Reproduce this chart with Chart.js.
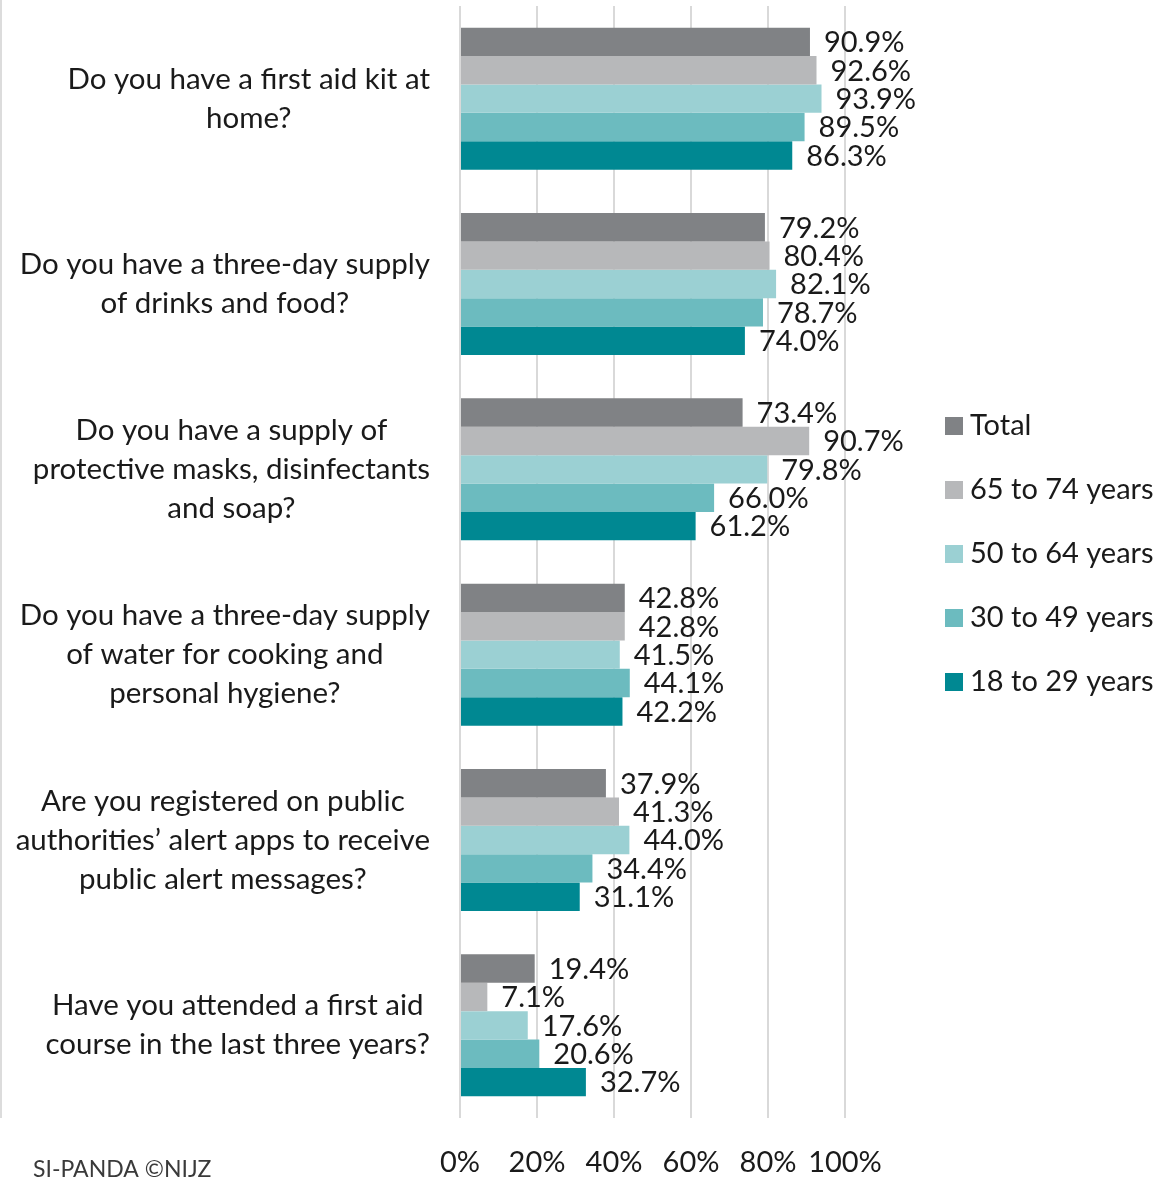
<!DOCTYPE html>
<html>
<head>
<meta charset="utf-8">
<script src="https://cdn.jsdelivr.net/npm/chart.js@4/dist/chart.umd.min.js"></script>
<style>
  html, body { margin: 0; padding: 0; background: #fff; }
  #wrap { position: relative; width: 1160px; height: 1180px; }
  #frame { position: absolute; left: 0; top: 0; width: 2px; height: 1118px; background: #dcdcdc; }
  canvas { position: absolute; left: 0; top: 0; }
</style>
</head>
<body>
<div id="wrap">
  <canvas id="chart" width="1160" height="1180"></canvas>
  <div id="frame"></div>
</div>
<script>
// Survey questions (one wrapped label per question)
const questions = [
  ["Do you have a first aid kit at", "home?"],
  ["Do you have a three-day supply", "of drinks and food?"],
  ["Do you have a supply of", "protective masks, disinfectants", "and soap?"],
  ["Do you have a three-day supply", "of water for cooking and", "personal hygiene?"],
  ["Are you registered on public", "authorities\u2019 alert apps to receive", "public alert messages?"],
  ["Have you attended a first aid", "course in the last three years?"]
];

// Share of respondents answering "yes" (%)
const total      = [90.9, 79.2, 73.4, 42.8, 37.9, 19.4];
const age65to74  = [92.6, 80.4, 90.7, 42.8, 41.3, 7.1];
const age50to64  = [93.9, 82.1, 79.8, 41.5, 44.0, 17.6];
const age30to49  = [89.5, 78.7, 66.0, 44.1, 34.4, 20.6];
const age18to29  = [86.3, 74.0, 61.2, 42.2, 31.1, 32.7];

const seriesNames = ["Total", "65 to 74 years", "50 to 64 years", "30 to 49 years", "18 to 29 years"];
const seriesColors = ["#808285", "#b7b8ba", "#9bd0d3", "#6cbbbf", "#008892"];

const xTicks = [0, 20, 40, 60, 80, 100];

const FONT = "Lato, 'Open Sans', sans-serif";
const TEXT = "#1a1a1a";

// Category labels: each block right-aligned to the axis, lines centred within the block
const questionLabels = {
  id: "questionLabels",
  afterDraw(chart) {
    const { ctx } = chart;
    const y = chart.scales.y;
    const rightEdge = y.right - 30;
    const lineH = 39;
    ctx.save();
    ctx.font = "29.5px " + FONT;
    ctx.fillStyle = TEXT;
    ctx.textAlign = "center";
    ctx.textBaseline = "middle";
    chart.data.labels.forEach((lines, i) => {
      const cy = y.getPixelForTick(i);
      const w = Math.max(...lines.map(l => ctx.measureText(l).width));
      const cx = rightEdge - w / 2;
      lines.forEach((l, j) => {
        ctx.fillText(l, cx, cy + (j - (lines.length - 1) / 2) * lineH);
      });
    });
    ctx.restore();
  }
};

// Value labels just past the end of each bar
const valueLabels = {
  id: "valueLabels",
  afterDatasetsDraw(chart) {
    const { ctx } = chart;
    ctx.save();
    ctx.font = "29px " + FONT;
    ctx.fillStyle = TEXT;
    ctx.textAlign = "left";
    ctx.textBaseline = "middle";
    chart.data.datasets.forEach((ds, di) => {
      chart.getDatasetMeta(di).data.forEach((bar, i) => {
        ctx.fillText(ds.data[i].toFixed(1) + "%", bar.x + 14, bar.y + 1);
      });
    });
    ctx.restore();
  }
};

// Legend at the right and source note at the bottom left
const sideLegend = {
  id: "sideLegend",
  afterDraw(chart) {
    const { ctx } = chart;
    const x0 = chart.chartArea.right + 100;
    const step = 64;
    const n = chart.data.datasets.length;
    const midY = (chart.chartArea.top + chart.chartArea.bottom) / 2 - 8;
    ctx.save();
    ctx.font = "29px " + FONT;
    ctx.textBaseline = "middle";
    ctx.textAlign = "left";
    chart.data.datasets.forEach((ds, i) => {
      const cy = midY + (i - (n - 1) / 2) * step;
      ctx.fillStyle = ds.backgroundColor;
      ctx.fillRect(x0, cy - 9, 18, 18);
      ctx.fillStyle = TEXT;
      ctx.fillText(ds.label, x0 + 25, cy);
    });
    ctx.font = "23px " + FONT;
    ctx.fillStyle = "#3a3a3a";
    ctx.textBaseline = "alphabetic";
    ctx.fillText("SI-PANDA \u00A9NIJZ", 33, 1177);
    ctx.restore();
  }
};

const seriesData = [total, age65to74, age50to64, age30to49, age18to29];

new Chart(document.getElementById("chart"), {
  type: "bar",
  data: {
    labels: questions,
    datasets: seriesData.map((d, i) => ({
      label: seriesNames[i],
      data: d,
      backgroundColor: seriesColors[i],
      borderWidth: 0,
      categoryPercentage: 0.766,
      barPercentage: 1.0
    }))
  },
  options: {
    indexAxis: "y",
    responsive: false,
    animation: false,
    devicePixelRatio: 1,
    layout: { padding: { left: 0, top: 6, right: 315, bottom: 0 } },
    plugins: {
      legend: { display: false },
      tooltip: { enabled: false }
    },
    scales: {
      x: {
        min: 0,
        max: 100,
        afterBuildTicks(scale) { scale.ticks = xTicks.map(v => ({ value: v })); },
        afterFit(scale) { scale.height = 62; },
        ticks: {
          callback: v => v + "%",
          font: { family: FONT, size: 29 },
          color: TEXT,
          padding: 27,
          maxRotation: 0
        },
        grid: { color: "#d9d9d9", lineWidth: 2, drawTicks: false },
        border: { display: false }
      },
      y: {
        ticks: { display: false },
        grid: { display: false },
        border: { display: false },
        afterFit(scale) { scale.width = 460; }
      }
    }
  },
  plugins: [questionLabels, valueLabels, sideLegend]
});
</script>
</body>
</html>
